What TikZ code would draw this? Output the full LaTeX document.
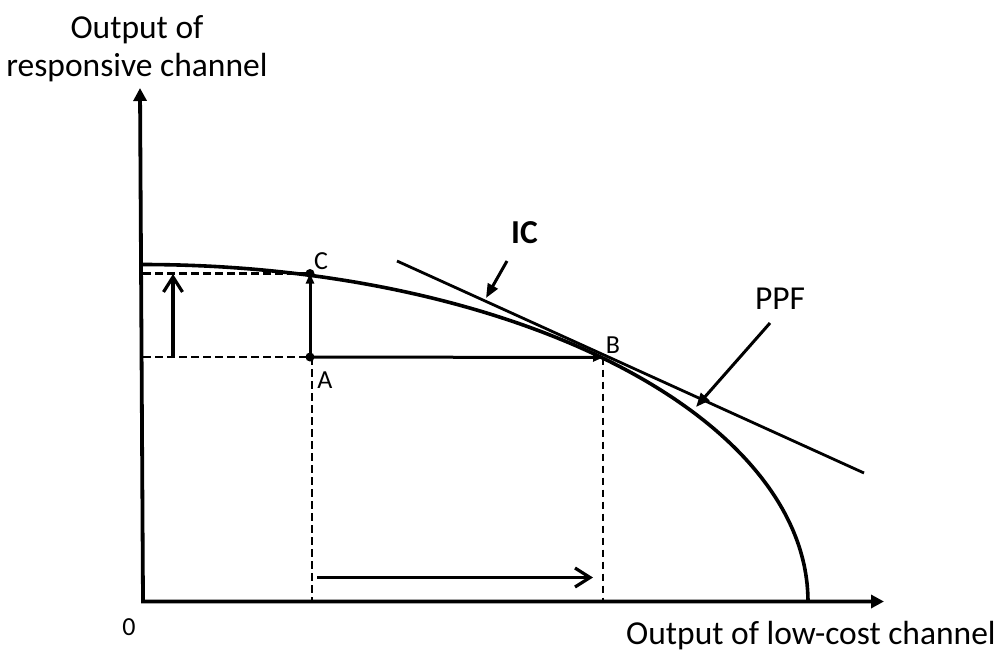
\documentclass[tikz,border=0pt]{standalone}
\usepackage{fontspec}
\setmainfont{Carlito}
\usetikzlibrary{arrows.meta}
\begin{document}
\begin{tikzpicture}[x=1pt,y=-1pt,
  axis/.style={line width=3.8pt, {Triangle[length=13pt,width=13pt]}-{Triangle[length=13pt,width=13pt]}},
  curve/.style={line width=3.6pt},
  tangent/.style={line width=2.8pt},
  guide/.style={line width=2.2pt, dash pattern=on 7.5pt off 4.5pt},
  move/.style={line width=3pt, -{Triangle[length=10pt,width=8pt]}},
  shiftarrow/.style={line width=3.2pt, -{Straight Barb[length=15pt,width=19pt]}},
  pointer/.style={line width=3pt, -{Triangle[length=14pt,width=11pt]}},
  big/.style={font=\fontsize{33.5}{38}\selectfont, inner sep=0pt},
  small/.style={font=\fontsize{26}{30}\selectfont, inner sep=0pt},
  dot/.style={circle, fill, inner sep=0pt, minimum size=9pt}]
\useasboundingbox (0,0) rectangle (999,651);
% axes
\coordinate (ytop) at (140,88);
\coordinate (O) at (143,601.5);
\coordinate (xend) at (884,601.5);
\draw[axis] (ytop) -- (O) -- (xend);
% PPF (quarter ellipse)
\draw[curve] plot[domain=0:90, samples=120, smooth] ({143+665*sin(\x)}, {601.5-337*cos(\x)});
% points
\node[dot] (C) at (310,273.5) {};
\node[dot] (A) at (310,357) {};
\coordinate (B) at (603,357.5);
\coordinate (Cy) at (143,273.5);
\coordinate (Ay) at (143,357);
\coordinate (Ax) at (312,601.5);
\coordinate (Bx) at (603,601.5);
% IC line
\coordinate (ic1) at (397,261);
\coordinate (ic2) at (864,473);
\draw[tangent] (ic1) -- (ic2);
% dashed guides
\draw[guide] (Cy) -- (C.center);
\draw[guide] (Ay) -- (A.center);
\draw[guide] (312,357) -- (Ax);
\draw[guide] (B) -- (Bx);
% movement arrows
\draw[move] (A.center) -- (C.center);
\draw[move] (A.center) -- (B);
\coordinate (l1) at (173,358);
\coordinate (l2) at (173,274);
\draw[shiftarrow] (l1) -- (l2);
\coordinate (b1) at (317,577.5);
\coordinate (b2) at (593,577.5);
\draw[shiftarrow] (b1) -- (b2);
% labels
\node[big, align=center] (ylab) at (137,49) {Output of\\responsive channel};
\node[big, anchor=base] (xlab) at (811,644) {Output of low-cost channel};
\node[small] (zero) at (129,627) {0};
\node[small] (Clab) at (321,261) {C};
\node[small] (Alab) at (325,380) {A};
\node[small] (Blab) at (613,345) {B};
\node[big, font=\fontsize{33.5}{38}\selectfont\bfseries] (IC) at (524.5,232.5) {IC};
\node[big] (PPF) at (780,298.5) {PPF};
% pointers
\coordinate (icp1) at (507,261);
\coordinate (icp2) at (486,298);
\draw[pointer] (icp1) -- (icp2);
\coordinate (ppf1) at (770,323);
\coordinate (ppf2) at (696,407);
\draw[pointer] (ppf1) -- (ppf2);
\end{tikzpicture}
\end{document}
